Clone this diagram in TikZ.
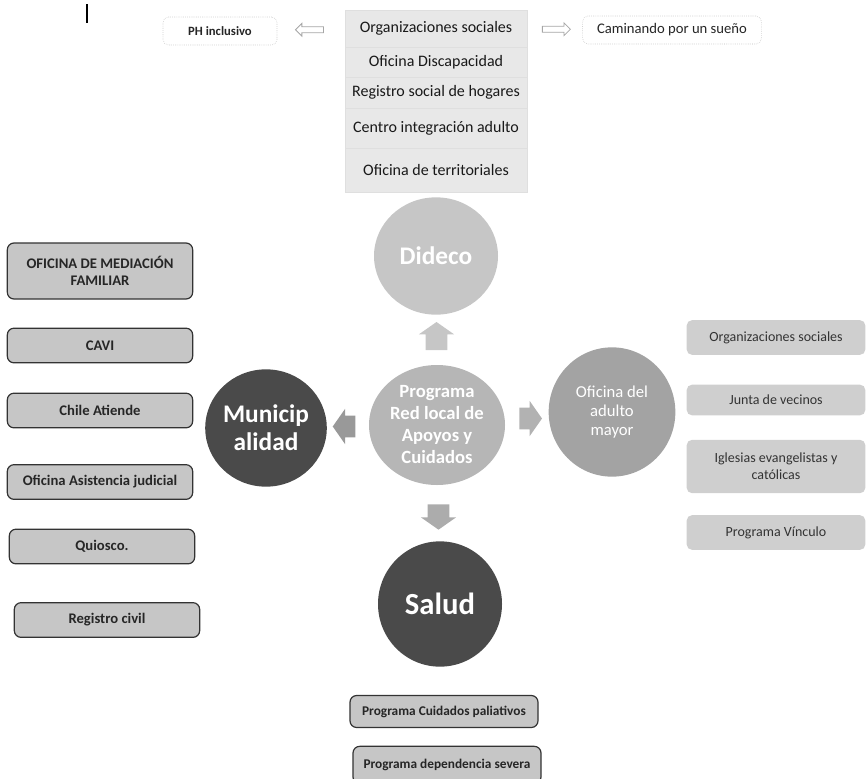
\documentclass[tikz,border=0pt]{standalone}
\usepackage{fontspec}
\setmainfont{Carlito}
\usetikzlibrary{shapes.arrows,shapes.geometric,calc}
\definecolor{lightcirc}{HTML}{C6C6C6}
\definecolor{midcirc}{HTML}{B6B6B6}
\definecolor{adultcirc}{HTML}{A3A3A3}
\definecolor{darkcirc}{HTML}{4A4A4A}
\begin{document}
\begin{tikzpicture}[x=0.75pt,y=-0.75pt,
        circ/.style={ellipse,inner sep=0pt,text=white,align=center,font=\bfseries},
        blockarrow/.style={single arrow,inner xsep=0pt,inner ysep=8pt,minimum height=21pt,single arrow head extend=5pt,single arrow tip angle=110,fill=gray!70},
        blockarrowv/.style={blockarrow,inner xsep=8pt,inner ysep=0pt},
        thinarrow/.style={single arrow,inner xsep=0pt,inner ysep=2pt,minimum height=21pt,single arrow head extend=2.5pt,fill=white,draw=gray!70,line width=0.6pt},
        topbox/.style={draw=gray!55,densely dotted,fill=white,rounded corners=4pt,minimum height=21pt,text=black!85},
        listbox/.style={fill=gray!18,draw=gray!25,minimum width=136.5pt,inner xsep=2pt,font=\fontsize{12}{14}\selectfont,text=black!90},
        leftbox/.style={draw=black!80,line width=0.9pt,fill=gray!45,rounded corners=5pt,minimum width=139pt,minimum height=26pt,align=center,font=\fontsize{11}{13}\selectfont\bfseries,text=black!85},
        rightbox/.style={fill=gray!38,rounded corners=4pt,minimum width=134pt,align=center,font=\fontsize{10.5}{13}\selectfont,text=black!80},
        bottombox/.style={leftbox,minimum width=141pt,minimum height=24pt,font=\fontsize{10}{12}\selectfont\bfseries}]
        \useasboundingbox (0,0) rectangle (866,778);
        \clip (0,0) rectangle (866,778);

        \draw[line width=1.5pt] (87,4) -- (87,23);

        \node[topbox,minimum width=85.5pt,font=\fontsize{9.5}{11}\selectfont\bfseries] (ph) at (220,31) {PH inclusivo};
        \node[topbox,minimum width=134pt,font=\fontsize{11}{13}\selectfont] (sueno) at (672,30) {Caminando por un sueño};

        \node[listbox,minimum height=27.75pt] (l1) at (436,28.5) {Organizaciones sociales};
        \node[listbox,minimum height=22.5pt] (l2) at (436,62) {Oficina Discapacidad};
        \node[listbox,minimum height=23.25pt] (l3) at (436,92.5) {Registro social de hogares};
        \node[listbox,minimum height=30pt] (l4) at (436,128) {Centro integración adulto};
        \node[listbox,minimum height=33pt] (l5) at (436,170) {Oficina de territoriales};

        \node[thinarrow,shape border rotate=180] (ta1) at ($(ph.east)!0.5!(l1.west)$) {};
        \node[thinarrow] (ta2) at ($(l1.east)!0.5!(sueno.west)$) {};

        \node[circ,fill=lightcirc,minimum width=93pt,minimum height=88pt,font=\fontsize{19}{22}\selectfont\bfseries] (dideco) at (436,256) {Dideco};
        \node[circ,fill=midcirc,minimum width=102pt,minimum height=90pt,font=\fontsize{14}{16.5}\selectfont\bfseries] (prog) at (437,425) {Programa\\Red local de\\Apoyos y\\Cuidados};
        \node[circ,fill=darkcirc,minimum width=91pt,minimum height=88pt,font=\fontsize{19}{21}\selectfont\bfseries] (muni) at (266,428) {Municip\\alidad};
        \node[circ,fill=adultcirc,minimum width=95pt,minimum height=97pt,font=\fontsize{12.5}{14.5}\selectfont] (adulto) at (612,412) {Oficina del\\adulto\\mayor};
        \node[circ,fill=darkcirc,minimum width=93pt,minimum height=94pt,font=\fontsize{23}{26}\selectfont\bfseries] (salud) at (440,604) {Salud};

        \node[blockarrowv,fill=gray!45,shape border rotate=90] (aup) at ($(prog.north)!0.5!(dideco.south)$) {};
        \node[blockarrow,fill=gray!80,minimum height=17pt,shape border rotate=180] (aleft) at ($(prog.west)!0.5!(muni.east)$) {};
        \node[blockarrow,fill=gray!60,minimum height=17pt] (aright) at ($(prog.east)!0.5!(adulto.west)$) {};
        \node[blockarrowv,fill=gray!65,minimum height=19pt,shape border rotate=270] (adown) at ($(prog.south)!0.5!(salud.north)$) {};

        \node[leftbox,minimum height=42pt] (b1) at (100,271) {OFICINA DE MEDIACIÓN\\FAMILIAR};
        \node[leftbox] (b2) at (100,345.5) {CAVI};
        \node[leftbox] (b3) at (100,410.5) {Chile Atiende};
        \node[leftbox] (b4) at (100,482) {Oficina Asistencia judicial};
        \node[leftbox] (b5) at (102,546.5) {Quiosco.};
        \node[leftbox] (b6) at (107,620) {Registro civil};

        \node[rightbox,minimum height=26pt] (r1) at (776,337.5) {Organizaciones sociales};
        \node[rightbox,minimum height=23pt] (r2) at (776,400) {Junta de vecinos};
        \node[rightbox,minimum height=40pt] (r3) at (776,466.5) {Iglesias evangelistas y\\católicas};
        \node[rightbox,minimum height=26pt] (r4) at (776,532.5) {Programa Vínculo};

        \node[bottombox] (p1) at (444,711.5) {Programa Cuidados paliativos};
        \node[bottombox,minimum height=28pt] (p2) at (447,765) {Programa dependencia severa};
\end{tikzpicture}
\end{document}
